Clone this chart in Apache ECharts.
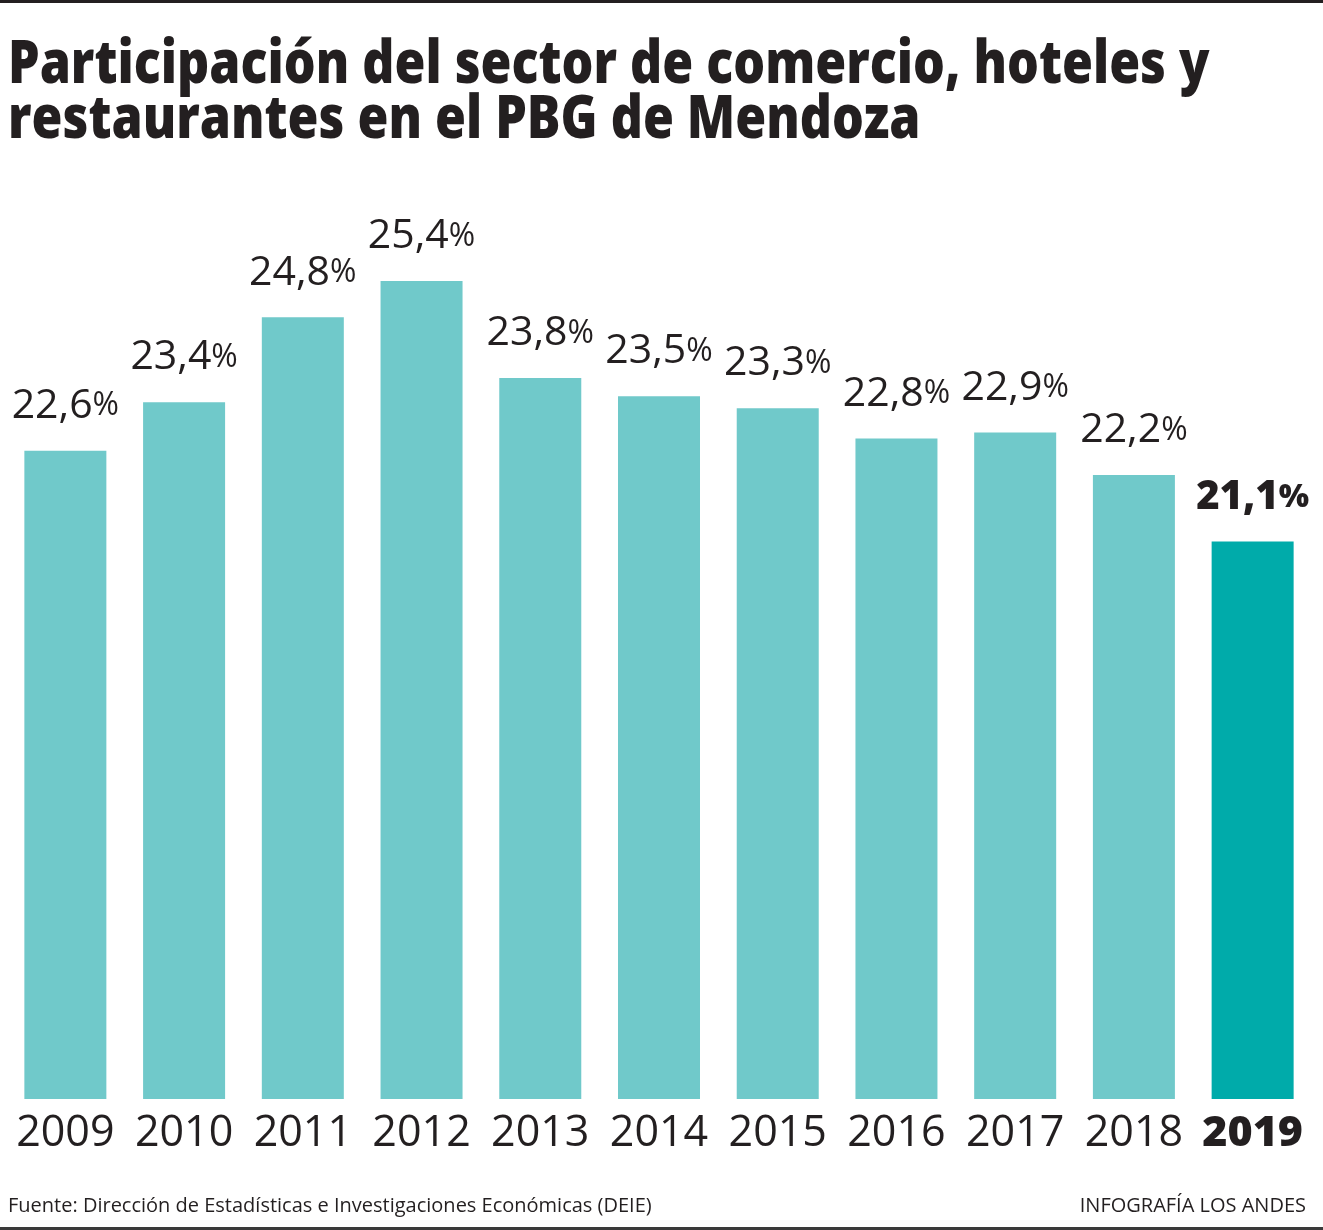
<!DOCTYPE html>
<html>
<head>
<meta charset="utf-8">
<script src="https://cdn.jsdelivr.net/npm/echarts@6/dist/echarts.min.js"></script>
<style>
html,body{margin:0;padding:0;background:#fff;}
#c{width:1323px;height:1230px;}
</style>
</head>
<body>
<div id="c"></div>
<script>
const years = ['2009','2010','2011','2012','2013','2014','2015','2016','2017','2018','2019'];
const values = [22.6, 23.4, 24.8, 25.4, 23.8, 23.5, 23.3, 22.8, 22.9, 22.2, 21.1];
const highlightYear = '2019';
const titleLines = ['Participación del sector de comercio, hoteles y', 'restaurantes en el PBG de Mendoza'];
const sourceText = 'Fuente: Dirección de Estadísticas e Investigaciones Económicas (DEIE)';
const creditText = 'INFOGRAFÍA LOS ANDES';

const BASE = '#70c9ca', HI = '#00abaa', INK = '#231f20';
const chart = echarts.init(document.getElementById('c'));

const data = values.map((v, i) => ({
  value: v,
  itemStyle: { color: years[i] === highlightYear ? HI : BASE }
}));

chart.setOption({
  backgroundColor: '#fff',
  animation: false,
  grid: { left: 6, right: 11, top: 281, bottom: 131 },
  xAxis: {
    type: 'category',
    data: years,
    axisLine: { show: false },
    axisTick: { show: false },
    axisLabel: {
      margin: 13,
      formatter: (v) => v === highlightYear ? '{b|' + v + '}' : '{n|' + v + '}',
      rich: {
        n: { fontFamily: 'Open Sans', fontSize: 43, color: INK },
        b: { fontFamily: 'Open Sans', fontWeight: 800, fontSize: 43, color: INK }
      }
    }
  },
  yAxis: { type: 'value', min: 11.9, max: 25.4, show: false, splitLine: { show: false } },
  series: [{
    type: 'bar',
    data: data,
    barWidth: 82,
    label: {
      show: true,
      position: 'top',
      distance: 24,
      formatter: (p) => {
        const s = p.value.toFixed(1).replace('.', ',');
        return p.name === highlightYear ? '{nb|' + s + '}{pb|%}' : '{n|' + s + '}{p|%}';
      },
      rich: {
        n: { fontFamily: 'Open Sans', fontSize: 41, color: INK },
        p: { fontFamily: 'Open Sans', fontSize: 32, color: INK },
        nb: { fontFamily: 'Open Sans', fontWeight: 800, fontSize: 40, color: INK },
        pb: { fontFamily: 'Open Sans', fontWeight: 800, fontSize: 32, color: INK }
      }
    }
  }],
  graphic: [
    { type: 'rect', left: 0, top: 0, shape: { width: 1323, height: 3 }, style: { fill: '#231f20' } },
    { type: 'rect', left: 0, top: 1227, shape: { width: 1323, height: 3 }, style: { fill: '#3a3a3a' } },
    { type: 'text', x: 8, y: 36, scaleX: 0.835, style: { text: titleLines[0], fontFamily: 'Open Sans', fontWeight: 800, fontSize: 60, fill: INK } },
    { type: 'text', x: 8, y: 91, scaleX: 0.835, style: { text: titleLines[1], fontFamily: 'Open Sans', fontWeight: 800, fontSize: 60, fill: INK } },
    { type: 'text', x: 8, y: 1196, scaleX: 1.0, style: { text: sourceText, fontFamily: 'Open Sans', fontSize: 20, fill: INK } },
    { type: 'text', x: 1306, y: 1196, scaleX: 1.0, style: { text: creditText, fontFamily: 'Open Sans', fontSize: 20, fill: INK, align: 'right' } }
  ]
});
</script>
</body>
</html>
